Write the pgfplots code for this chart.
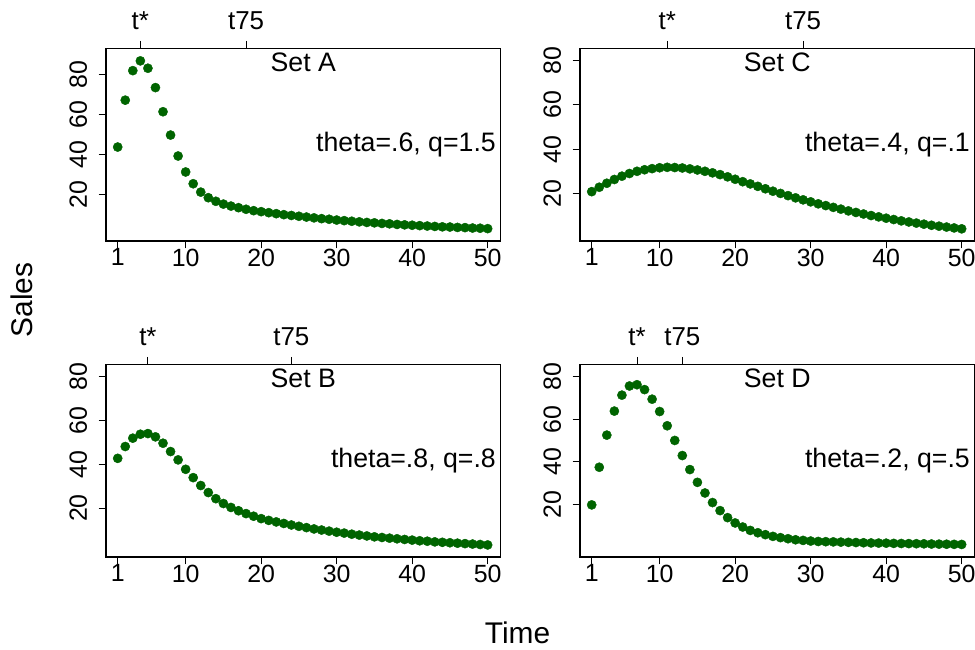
\documentclass[border=0pt]{standalone}
\usepackage{fontspec}
\setmainfont{Liberation Sans}
\usepackage{pgfplots}
\usepackage{pgfplotstable}
\pgfplotsset{compat=1.18}
\definecolor{dkgreen}{RGB}{0,100,0}
\newcommand\ticksize{\fontsize{25}{29}\selectfont}
\newcommand\topsize{\fontsize{26}{30}\selectfont}
\newcommand\txtsize{\fontsize{26.8}{31}\selectfont}
\newcommand\ttlsize{\fontsize{30}{34}\selectfont}

\pgfplotstableread{
t s
1 43.7
2 67.2
3 82.0
4 86.9
5 83.2
6 73.5
7 61.4
8 49.7
9 39.2
10 31.2
11 25.3
12 21.1
13 18.3
14 16.5
15 15.1
16 14.1
17 13.3
18 12.5
19 11.8
20 11.3
21 10.8
22 10.3
23 9.8
24 9.4
25 9.0
26 8.6
27 8.2
28 7.8
29 7.5
30 7.1
31 6.8
32 6.5
33 6.2
34 5.9
35 5.7
36 5.4
37 5.2
38 4.9
39 4.7
40 4.5
41 4.3
42 4.1
43 3.9
44 3.7
45 3.6
46 3.4
47 3.3
48 3.1
49 3.0
50 2.8
}\setA

\pgfplotstableread{
t s
1 42.7
2 48.1
3 51.9
4 53.7
5 54.0
6 52.5
7 49.6
8 45.8
9 42.0
10 37.7
11 33.9
12 30.3
13 27.1
14 24.3
15 22.1
16 20.3
17 18.8
18 17.5
19 16.3
20 15.2
21 14.4
22 13.7
23 13.0
24 12.3
25 11.7
26 11.1
27 10.5
28 10.0
29 9.5
30 9.0
31 8.6
32 8.1
33 7.7
34 7.3
35 6.9
36 6.6
37 6.3
38 6.0
39 5.7
40 5.4
41 5.1
42 4.9
43 4.6
44 4.4
45 4.2
46 4.0
47 3.8
48 3.6
49 3.4
50 3.2
}\setB

\pgfplotstableread{
t s
1 20.8
2 22.8
3 24.6
4 26.3
5 27.8
6 29.0
7 30.0
8 30.7
9 31.2
10 31.6
11 31.8
12 31.7
13 31.5
14 31.1
15 30.6
16 30.0
17 29.3
18 28.5
19 27.5
20 26.4
21 25.3
22 24.3
23 23.2
24 22.1
25 21.0
26 20.0
27 19.0
28 18.0
29 17.1
30 16.2
31 15.3
32 14.5
33 13.7
34 12.9
35 12.1
36 11.4
37 10.7
38 10.0
39 9.4
40 8.8
41 8.2
42 7.6
43 7.1
44 6.6
45 6.1
46 5.6
47 5.2
48 4.8
49 4.4
50 4.0
}\setC

\pgfplotstableread{
t s
1 19.7
2 37.4
3 52.5
4 63.8
5 71.3
6 75.6
7 76.2
8 73.9
9 69.4
10 63.6
11 56.9
12 50.0
13 42.9
14 36.3
15 30.3
16 25.3
17 20.8
18 17.0
19 13.7
20 11.2
21 9.3
22 7.7
23 6.6
24 5.7
25 4.9
26 4.3
27 3.8
28 3.3
29 3.0
30 2.7
31 2.5
32 2.4
33 2.3
34 2.2
35 2.1
36 2.0
37 1.9
38 1.8
39 1.75
40 1.7
41 1.6
42 1.55
43 1.5
44 1.45
45 1.4
46 1.3
47 1.25
48 1.2
49 1.15
50 1.1
}\setD

\pgfplotsset{
  panel/.style={
    width=394.5bp, height=192.7bp, scale only axis,
    xmin=-0.55, xmax=51.7,
    xtick={1,10,20,30,40,50}, ytick={20,40,60,80},
    tick align=outside, xtick pos=left, ytick pos=left,
    major tick length=7.5bp,
    axis line style={line width=1.1bp},
    every tick/.style={line width=0.9bp, black},
    tick label style={font=\ticksize},
    xticklabel style={anchor=north, inner sep=0pt},
    yticklabel style={rotate=90, anchor=south, inner xsep=0pt, inner ysep=11.2bp},
    /pgf/number format/assume math mode=true,
    clip=false,
  },
  toppanel/.style={
    width=394.5bp, height=192.7bp, scale only axis,
    xmin=-0.55, xmax=51.7, ymin=0, ymax=1,
    axis x line*=top, axis y line=none,
    tick align=outside, major tick length=7.5bp,
    axis line style={line width=1.1bp},
    every tick/.style={line width=0.9bp, black},
    tick label style={font=\topsize},
    xticklabel style={anchor=base, inner sep=0pt, yshift=11.5bp},
  },
  dots/.style={only marks, mark=*, mark size=4.6bp, color=dkgreen,
    mark options={draw=dkgreen, fill=dkgreen}},
}

\begin{document}
\begin{tikzpicture}
\path[use as bounding box] (0,0) rectangle (975bp,650bp);

% Set A
\begin{axis}[panel, at={(106bp,409bp)}, anchor=south west, ymin=-3.4, ymax=93.2]
\addplot[dots] table[x=t, y=s] {\setA};
\node[font=\txtsize, anchor=base, yshift=-23bp] at (axis description cs:0.5,1) {Set A};
\node[font=\txtsize, anchor=east, inner sep=0pt, xshift=-4.5bp] at (axis description cs:1,0.5) {theta=.6, q=1.5};
\end{axis}
\begin{axis}[toppanel, at={(106bp,409bp)}, anchor=south west, xtick={4,18}, xticklabels={t*,t75}]
\end{axis}

% Set C
\begin{axis}[panel, at={(580bp,409bp)}, anchor=south west, ymin=-1.5, ymax=85.6]
\addplot[dots] table[x=t, y=s] {\setC};
\node[font=\txtsize, anchor=base, yshift=-23bp] at (axis description cs:0.5,1) {Set C};
\node[font=\txtsize, anchor=east, inner sep=0pt, xshift=-4.5bp] at (axis description cs:1,0.5) {theta=.4, q=.1};
\end{axis}
\begin{axis}[toppanel, at={(580bp,409bp)}, anchor=south west, xtick={11,29}, xticklabels={t*,t75}]
\end{axis}

% Set B
\begin{axis}[panel, at={(106bp,93bp)}, anchor=south west, ymin=-2.3, ymax=85.6]
\addplot[dots] table[x=t, y=s] {\setB};
\node[font=\txtsize, anchor=base, yshift=-23bp] at (axis description cs:0.5,1) {Set B};
\node[font=\txtsize, anchor=east, inner sep=0pt, xshift=-4.5bp] at (axis description cs:1,0.5) {theta=.8, q=.8};
\end{axis}
\begin{axis}[toppanel, at={(106bp,93bp)}, anchor=south west, xtick={5,24}, xticklabels={t*,t75}]
\end{axis}

% Set D
\begin{axis}[panel, at={(580bp,93bp)}, anchor=south west, ymin=-4.8, ymax=85.8]
\addplot[dots] table[x=t, y=s] {\setD};
\node[font=\txtsize, anchor=base, yshift=-23bp] at (axis description cs:0.5,1) {Set D};
\node[font=\txtsize, anchor=east, inner sep=0pt, xshift=-4.5bp] at (axis description cs:1,0.5) {theta=.2, q=.5};
\end{axis}
\begin{axis}[toppanel, at={(580bp,93bp)}, anchor=south west, xtick={7,13}, xticklabels={t*,t75}]
\end{axis}

\node[font=\ttlsize, rotate=90] at (22bp,350bp) {Sales};
\node[font=\ttlsize, anchor=base] at (517.5bp,6.7bp) {Time};
\end{tikzpicture}
\end{document}
